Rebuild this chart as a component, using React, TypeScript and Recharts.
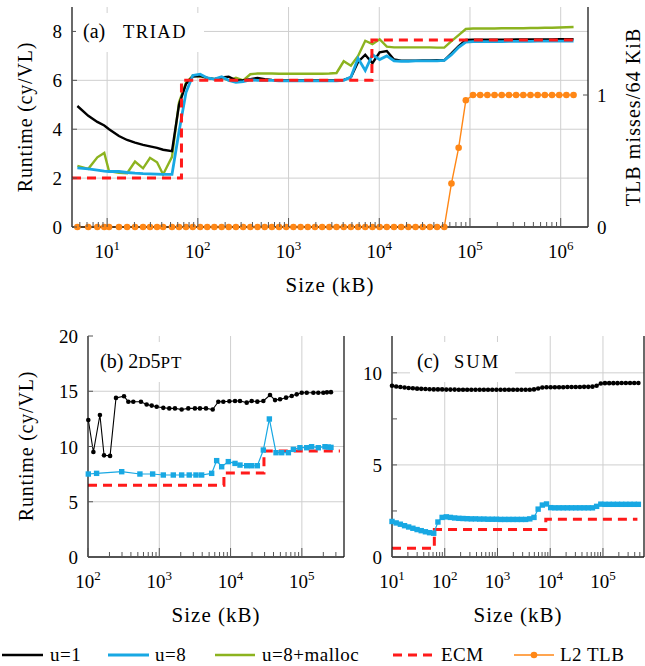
import { LineChart, Line, XAxis, YAxis, ReferenceLine } from "recharts";

const FONT = '"Liberation Serif", "DejaVu Serif", serif';
const INK = "#000000";
const FRAME = "#1a1a1a";
const TICK = "#555555";
const GRID = "#cfcfcf";
const BLUE = "#18a8e3";
const GREEN = "#8cb31f";
const RED = "#ff1a1a";
const ORANGE = "#ff8716";

// ---- (a) TRIAD ----
const triadSizes = [
  4.7, 6.2, 7.8, 9.3, 10.5, 13.5, 16.6, 20.3, 24.9, 29.7, 35.5, 41.4, 51.9, 62, 74, 88,
  106, 127, 152, 183, 219, 263, 316, 379, 455, 546, 655, 786, 943, 1132, 1358, 1630, 1956, 2347, 2816, 3380,
  4056, 4867, 5840, 7008, 8410, 10092, 12110, 14532, 17439, 20927, 25112, 30134, 36161, 43393, 52072, 62486,
  74983, 89980, 107976, 129571, 155485, 186582, 223899, 268678, 322414, 386897, 464276, 557131, 668557,
  802269, 962722, 1155267, 1386320,
];
const triadU1 = [
  4.95, 4.55, 4.3, 4.15, 4.0, 3.72, 3.56, 3.45, 3.36, 3.3, 3.24, 3.16, 3.1, 5.0, 5.85, 6.15,
  6.18, 6.1, 6.05, 6.12, 6.15, 6.0, 6.0, 6.05, 6.1, 6.05, 6.02, 6.0, 6.0, 6.0, 6.0, 6.0, 6.0, 6.0, 6.0, 6.0,
  6.02, 6.12, 6.75, 7.05, 6.7, 7.15, 7.2, 6.85, 6.8, 6.8, 6.8, 6.81, 6.81, 6.82, 6.82, 7.1, 7.4, 7.65, 7.66,
  7.66, 7.66, 7.66, 7.66, 7.66, 7.67, 7.67, 7.67, 7.67, 7.67, 7.67, 7.68, 7.68, 7.68,
];
const triadU8 = [
  2.42, 2.38, 2.33, 2.29, 2.27, 2.27, 2.23, 2.2, 2.18, 2.17, 2.16, 2.15, 2.15, 3.9, 5.5, 6.2,
  6.25, 6.1, 6.05, 6.15, 6.0, 5.92, 5.95, 6.02, 6.0, 6.0, 6.0, 5.98, 5.98, 5.98, 5.98, 5.98, 5.98, 5.98, 5.98, 5.98,
  6.0, 6.14, 6.9, 6.4, 7.05, 6.85, 7.0, 6.8, 6.78, 6.78, 6.8, 6.8, 6.8, 6.8, 6.82, 7.05, 7.35, 7.56, 7.58,
  7.58, 7.58, 7.58, 7.58, 7.59, 7.59, 7.59, 7.59, 7.6, 7.6, 7.6, 7.6, 7.6, 7.6,
];
const triadMalloc = [
  2.5, 2.38, 2.85, 3.03, 2.28, 2.22, 2.2, 2.68, 2.4, 2.83, 2.65, 2.15, 2.87, 5.1, 5.9, 6.2,
  6.15, 6.1, 6.05, 6.1, 6.0, 6.1, 6.0, 6.25, 6.28, 6.28, 6.28, 6.27, 6.27, 6.27, 6.27, 6.27, 6.27, 6.27, 6.28, 6.3,
  6.78, 6.6, 7.0, 7.62, 7.48, 7.68, 7.38, 7.35, 7.35, 7.35, 7.35, 7.35, 7.35, 7.34, 7.34, 7.6, 7.85, 8.1, 8.12,
  8.12, 8.12, 8.12, 8.13, 8.13, 8.13, 8.13, 8.14, 8.14, 8.15, 8.15, 8.16, 8.17, 8.18,
];
const triadTlb = [
  0, 0, 0, 0, 0, 0, 0, 0, 0, 0, 0, 0, 0, 0, 0, 0,
  0, 0, 0, 0, 0, 0, 0, 0, 0, 0, 0, 0, 0, 0, 0, 0, 0, 0, 0, 0,
  0, 0, 0, 0, 0, 0, 0, 0, 0, 0, 0, 0, 0, 0, 0, 0.33, 0.6, 0.96, 1.0,
  1, 1, 1, 1, 1, 1, 1, 1, 1, 1, 1, 1, 1, 1,
];
const triadEcmSizes = [4.1, 66, 8300, 1450000];
const triadEcm = [2, 6, 7.65, 7.65];

// ---- (b) 2D5PT ----
const stencilU1Sizes = [
  101, 119, 147, 168, 204, 247, 320, 368, 432, 553, 665, 782, 919, 1138, 1381, 1660, 2060, 2550, 3160, 3720,
  4520, 5610, 6730, 7910, 9610, 11540, 13560, 16830, 19780, 23740, 28820, 35750, 42040, 49400, 60000, 72100,
  84700, 99600, 117000, 145000, 170000, 200000, 225000, 256000,
];
const stencilU1 = [
  12.4, 9.5, 12.85, 9.2, 9.15, 14.4, 14.55, 14.05, 14.05, 14.05, 13.8, 13.7, 13.6, 13.5, 13.45, 13.45, 13.35,
  13.45, 13.45, 13.45, 13.45, 13.35, 14.05, 14.05, 14.1, 14.12, 14.12, 13.97, 14.12, 14.06, 14.12, 14.66, 14.2,
  14.27, 14.42, 14.57, 14.72, 14.87, 14.87, 14.87, 14.87, 14.87, 14.9, 14.92,
];
const stencilU8Sizes = [
  101, 132, 297, 535, 807, 1138, 1572, 2060, 2630, 3270, 3930, 5430, 6380, 7500, 9300, 11540, 13560, 16830,
  19780, 23740, 28820, 35000, 43400, 52200, 64700, 76000, 94000, 117000, 137000, 170000, 211000, 235000, 256000,
];
const stencilU8 = [
  7.51, 7.57, 7.72, 7.51, 7.51, 7.42, 7.42, 7.42, 7.42, 7.42, 7.42, 7.57, 8.72, 8.17, 8.63, 8.47, 8.32, 8.26,
  8.26, 8.26, 9.68, 12.49, 9.44, 9.44, 9.44, 9.74, 9.89, 9.89, 9.98, 9.89, 9.98, 9.95, 9.92,
];
const stencilEcmSizes = [100, 8070, 29400, 342000];
const stencilEcm = [6.5, 7.6, 9.6, 9.6];

// ---- (c) SUM ----
const sumSizes = [
  10, 12, 14.4, 17.3, 20.7, 24.9, 29.9, 35.8, 43, 51.6, 61.9, 74.3, 89.2, 107, 128, 154, 185, 222, 266, 319,
  383, 460, 552, 662, 795, 954, 1145, 1374, 1648, 1978, 2373, 2848, 3418, 4101, 4922, 5906, 7087, 8505, 10206,
  12247, 14697, 17636, 21163, 25396, 30475, 36570, 43884, 52661, 63193, 75832, 90998, 109198, 131038, 157245,
  188694, 226433, 271719, 326063, 391276, 469531,
];
const sumU1 = [
  9.3, 9.26, 9.23, 9.2, 9.18, 9.16, 9.14, 9.13, 9.12, 9.11, 9.1, 9.1, 9.1, 9.09, 9.09, 9.09, 9.08, 9.08, 9.08,
  9.08, 9.08, 9.08, 9.08, 9.08, 9.08, 9.08, 9.08, 9.08, 9.08, 9.08, 9.08, 9.08, 9.08, 9.08, 9.1, 9.15, 9.2,
  9.22, 9.22, 9.22, 9.22, 9.22, 9.23, 9.23, 9.23, 9.23, 9.24, 9.24, 9.25, 9.3, 9.42, 9.44, 9.44, 9.44, 9.44,
  9.45, 9.45, 9.45, 9.45, 9.45,
];
const sumU8 = [
  1.93, 1.85, 1.78, 1.7, 1.63, 1.56, 1.49, 1.43, 1.37, 1.32, 1.29, 1.9, 2.15, 2.18, 2.15, 2.12, 2.1, 2.09, 2.08,
  2.07, 2.07, 2.06, 2.06, 2.05, 2.05, 2.05, 2.04, 2.04, 2.04, 2.04, 2.04, 2.04, 2.04, 2.07, 2.15, 2.6, 2.82,
  2.88, 2.68, 2.67, 2.67, 2.67, 2.67, 2.67, 2.67, 2.67, 2.67, 2.67, 2.67, 2.75, 2.87, 2.86, 2.86, 2.86, 2.86,
  2.86, 2.86, 2.86, 2.86, 2.86,
];
const sumEcmSizes = [10, 63.5, 8240, 450000];
const sumEcm = [0.47, 1.5, 2.05, 2.05];

// axis ticks
const triadDecades = [1, 10, 100, 1000, 10000, 100000, 1000000];
const stencilDecades = [100, 1000, 10000, 100000];
const sumDecades = [10, 100, 1000, 10000, 100000];
const minorSteps = [1, 2, 3, 4, 5, 6, 7, 8, 9];

const zip = (xs: number[], ys: number[]) => xs.map((size, i) => ({ size, value: ys[i] }));

const triadData = triadSizes.map((size, i) => ({
  size,
  u1: triadU1[i],
  u8: triadU8[i],
  malloc: triadMalloc[i],
  tlb: triadTlb[i],
}));

function logTicks(decades: number[], lo: number, hi: number) {
  const out: number[] = [];
  decades.forEach((d) => minorSteps.forEach((m) => {
    const v = d * m;
    if (v >= lo * 0.9999 && v < hi) out.push(v);
  }));
  return out.sort((a, b) => a - b);
}

function isDecade(v: number) {
  const e = Math.log10(v);
  return Math.abs(e - Math.round(e)) < 1e-6;
}

function BottomLogTick(props: any) {
  const { x = 0, y = 0, payload } = props;
  const v = payload ? payload.value : 1;
  const major = isDecade(v);
  return (
    <g>
      <line x1={x} x2={x} y1={y} y2={y - (major ? 9 : 5)} stroke={TICK} strokeWidth={1} />
      {major ? (
        <text x={x} y={y + 31} textAnchor="middle" fontFamily={FONT} fontSize={19} fill={INK}>
          10
          <tspan fontSize={13} dy={-8}>{Math.round(Math.log10(v))}</tspan>
        </text>
      ) : null}
    </g>
  );
}

function TopLogTick(props: any) {
  const { x = 0, y = 0, payload } = props;
  const v = payload ? payload.value : 1;
  return <line x1={x} x2={x} y1={y} y2={y + (isDecade(v) ? 9 : 5)} stroke={TICK} strokeWidth={1} />;
}

const leftTick = (labels: number[]) => (props: any) => {
  const { x = 0, y = 0, payload } = props;
  const v = payload ? payload.value : 0;
  return (
    <g>
      <line x1={x} x2={x + 5} y1={y} y2={y} stroke={TICK} strokeWidth={1} />
      {labels.includes(v) ? (
        <text x={x - 10} y={y + 7} textAnchor="end" fontFamily={FONT} fontSize={19} fill={INK}>
          {v}
        </text>
      ) : null}
    </g>
  );
};

const rightTick = (labels: number[]) => (props: any) => {
  const { x = 0, y = 0, payload } = props;
  const v = payload ? payload.value : 0;
  return (
    <g>
      <line x1={x - 5} x2={x} y1={y} y2={y} stroke={TICK} strokeWidth={1} />
      {labels.includes(v) ? (
        <text x={x + 9} y={y + 7} textAnchor="start" fontFamily={FONT} fontSize={19} fill={INK}>
          {v}
        </text>
      ) : null}
    </g>
  );
};

const squareDot = (color: string) => (props: any) => (
  <rect key={`sq-${props.index}`} x={props.cx - 2.7} y={props.cy - 2.7} width={5.4} height={5.4} fill={color} />
);

const gridX = (values: number[]) =>
  values.map((v) => <ReferenceLine key={`gx${v}`} x={v} stroke={GRID} strokeWidth={1} />);
const gridY = (values: number[]) =>
  values.map((v) => <ReferenceLine key={`gy${v}`} y={v} stroke={GRID} strokeWidth={1} />);

const frameLine = { stroke: FRAME, strokeWidth: 1.3 };

function TriadChart() {
  const domain: [number, number] = [4.1, 2000000];
  const ticks = logTicks(triadDecades, domain[0], domain[1]);
  return (
    <LineChart width={645} height={300} data={triadData} margin={{ top: 7, right: 0, bottom: 0, left: 0 }}>
      <XAxis dataKey="size" type="number" scale="log" domain={domain} ticks={ticks}
        interval={0} tickSize={0} tickMargin={0} tickLine={false} tick={BottomLogTick} height={73} axisLine={frameLine} />
      <XAxis xAxisId="top" orientation="top" dataKey="size" type="number" scale="log" domain={domain}
        ticks={ticks} interval={0} tickSize={0} tickMargin={0} tickLine={false}
        tick={TopLogTick} height={0} axisLine={frameLine} />
      <YAxis type="number" domain={[0, 9]} ticks={[0, 2, 4, 6, 8]} interval={0} width={72}
        tickSize={0} tickMargin={0} tickLine={false} tick={leftTick([0, 2, 4, 6, 8])} axisLine={frameLine} />
      <YAxis yAxisId="tlb" orientation="right" type="number" domain={[0, 5 / 3]} ticks={[0, 1]}
        interval={0} width={57} tickSize={0} tickMargin={0} tickLine={false} tick={rightTick([0, 1])} axisLine={frameLine} />
      {gridY([2, 4, 6, 8])}
      {gridX([10, 100, 1000, 10000, 100000, 1000000])}
      <Line dataKey="malloc" stroke={GREEN} strokeWidth={2.4} dot={false} activeDot={false} isAnimationActive={false} />
      <Line dataKey="u1" stroke={INK} strokeWidth={2.4} dot={false} activeDot={false} isAnimationActive={false} />
      <Line dataKey="u8" stroke={BLUE} strokeWidth={2.8} dot={false} activeDot={false} isAnimationActive={false} />
      <Line data={zip(triadEcmSizes, triadEcm)} dataKey="value" type="stepAfter" stroke={RED} strokeWidth={3}
        strokeDasharray="9 6" dot={false} activeDot={false} isAnimationActive={false} />
      <Line yAxisId="tlb" dataKey="tlb" stroke={ORANGE} strokeWidth={1.4}
        dot={{ r: 3.3, fill: ORANGE, stroke: ORANGE, strokeWidth: 0, clipDot: false }} activeDot={false} isAnimationActive={false} />
    </LineChart>
  );
}

function SmallChart(p: {
  width: number;
  yWidth: number;
  rightWidth: number;
  domain: [number, number];
  decades: number[];
  yMax: number;
  yTicks: number[];
  yLabels: number[];
  gridXs: number[];
  gridYs: number[];
  u1: { size: number; value: number }[];
  u8: { size: number; value: number }[];
  ecm: { size: number; value: number }[];
}) {
  const ticks = logTicks(p.decades, p.domain[0], p.domain[1]);
  return (
    <LineChart width={p.width} height={330} margin={{ top: 26, right: 0, bottom: 0, left: 0 }}>
      <XAxis dataKey="size" type="number" scale="log" domain={p.domain} ticks={ticks}
        interval={0} tickSize={0} tickMargin={0} tickLine={false} tick={BottomLogTick} height={83} axisLine={frameLine} />
      <XAxis xAxisId="top" orientation="top" dataKey="size" type="number" scale="log" domain={p.domain}
        ticks={ticks} interval={0} tickSize={0} tickMargin={0} tickLine={false}
        tick={TopLogTick} height={0} axisLine={frameLine} />
      <YAxis type="number" domain={[0, p.yMax]} ticks={p.yTicks} interval={0} width={p.yWidth}
        tickSize={0} tickMargin={0} tickLine={false} tick={leftTick(p.yLabels)} axisLine={frameLine} />
      <YAxis yAxisId="right" orientation="right" type="number" domain={[0, p.yMax]}
        ticks={p.yTicks} interval={0} width={p.rightWidth} tickSize={0} tickMargin={0} tickLine={false}
        tick={rightTick([])} axisLine={frameLine} />
      {gridY(p.gridYs)}
      {gridX(p.gridXs)}
      <Line data={p.u1} dataKey="value" stroke={INK} strokeWidth={1.1}
        dot={{ r: 2.3, fill: INK, stroke: INK, strokeWidth: 0 }} activeDot={false} isAnimationActive={false} />
      <Line data={p.ecm} dataKey="value" type="stepAfter" stroke={RED} strokeWidth={3} strokeDasharray="9 6"
        dot={false} activeDot={false} isAnimationActive={false} />
      <Line data={p.u8} dataKey="value" stroke={BLUE} strokeWidth={1.2} dot={squareDot(BLUE)}
        activeDot={false} isAnimationActive={false} />
    </LineChart>
  );
}

const textStyle = { fontFamily: FONT, fill: INK };

function Overlay() {
  return (
    <svg width={645} height={666} style={{ position: "absolute", left: 0, top: 0, pointerEvents: "none" }}>
      {/* panel titles */}
      <rect x={76} y={13} width={128} height={39} fill="#fff" />
      <text x={83} y={38} fontSize={20} style={textStyle}>
        (a)<tspan x={123} fontSize={18.5} letterSpacing={1.5}>TRIAD</tspan>
      </text>
      <rect x={92} y={342} width={130} height={40} fill="#fff" />
      <text x={100} y={368} fontSize={20} style={textStyle}>
        (b) 2<tspan fontSize={17}>D</tspan>
        <tspan fontSize={20}>5</tspan>
        <tspan fontSize={17} letterSpacing={1}>PT</tspan>
      </text>
      <rect x={410} y={342} width={105} height={40} fill="#fff" />
      <text x={417} y={368} fontSize={20} style={textStyle}>
        (c)<tspan x={454} fontSize={18.5} letterSpacing={2}>SUM</tspan>
      </text>

      {/* axis titles */}
      <text x={32} y={117} fontSize={20} letterSpacing={0.8} textAnchor="middle" transform="rotate(-90 32 117)" style={textStyle}>
        Runtime (cy/VL)
      </text>
      <text x={640} y={117} fontSize={20} letterSpacing={1.1} textAnchor="middle" transform="rotate(-90 640 117)" style={textStyle}>
        TLB misses/64 KiB
      </text>
      <text x={330} y={292} fontSize={21} letterSpacing={1} textAnchor="middle" style={textStyle}>Size (kB)</text>
      <text x={33} y={446} fontSize={20} letterSpacing={0.8} textAnchor="middle" transform="rotate(-90 33 446)" style={textStyle}>
        Runtime (cy/VL)
      </text>
      <text x={216} y={622} fontSize={21} letterSpacing={1} textAnchor="middle" style={textStyle}>Size (kB)</text>
      <text x={518} y={622} fontSize={21} letterSpacing={1} textAnchor="middle" style={textStyle}>Size (kB)</text>

      {/* legend */}
      <line x1={2} x2={43} y1={655} y2={655} stroke={INK} strokeWidth={2.4} />
      <text x={50} y={661} fontSize={19} letterSpacing={0.5} style={textStyle}>u=1</text>
      <line x1={108} x2={149} y1={655} y2={655} stroke={BLUE} strokeWidth={2.8} />
      <text x={155} y={661} fontSize={19} letterSpacing={0.5} style={textStyle}>u=8</text>
      <line x1={215} x2={255} y1={655} y2={655} stroke={GREEN} strokeWidth={2.4} />
      <text x={262} y={661} fontSize={19} letterSpacing={0.5} style={textStyle}>u=8+malloc</text>
      <line x1={393} x2={432} y1={655} y2={655} stroke={RED} strokeWidth={3} strokeDasharray="9 6" />
      <text x={441} y={661} fontSize={19} letterSpacing={0.5} style={textStyle}>ECM</text>
      <line x1={514} x2={554} y1={655} y2={655} stroke={ORANGE} strokeWidth={1.4} />
      <circle cx={534} cy={655} r={3.3} fill={ORANGE} />
      <text x={560} y={661} fontSize={19} letterSpacing={0.5} style={textStyle}>L2 TLB</text>
    </svg>
  );
}

export default function App() {
  return (
    <div style={{ position: "absolute", left: 0, top: 0, width: 645, height: 666, background: "#fff", overflow: "hidden" }}>
      <div style={{ position: "absolute", left: 0, top: 0 }}>
        <TriadChart />
      </div>
      <div style={{ position: "absolute", left: 0, top: 310 }}>
        <SmallChart width={350} yWidth={88} rightWidth={6} domain={[100, 390000]} decades={stencilDecades}
          yMax={20} yTicks={[0, 5, 10, 15, 20]} yLabels={[0, 5, 10, 15, 20]} gridXs={[1000, 10000, 100000]}
          gridYs={[5, 10, 15]} u1={zip(stencilU1Sizes, stencilU1)} u8={zip(stencilU8Sizes, stencilU8)}
          ecm={zip(stencilEcmSizes, stencilEcm)} />
      </div>
      <div style={{ position: "absolute", left: 350, top: 310 }}>
        <SmallChart width={295} yWidth={42} rightWidth={1} domain={[10, 600000]} decades={sumDecades}
          yMax={12} yTicks={[0, 2.5, 5, 7.5, 10]} yLabels={[0, 5, 10]} gridXs={[100, 1000, 10000, 100000]}
          gridYs={[5, 10]} u1={zip(sumSizes, sumU1)} u8={zip(sumSizes, sumU8)} ecm={zip(sumEcmSizes, sumEcm)} />
      </div>
      <Overlay />
    </div>
  );
}
